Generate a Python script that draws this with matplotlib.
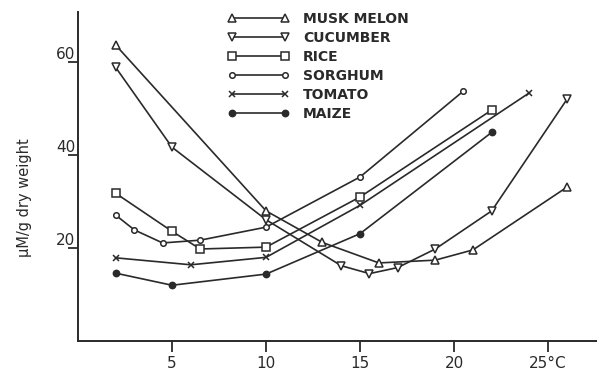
import matplotlib.pyplot as plt
from matplotlib.lines import Line2D

# temperature (deg C) and content (uM/g dry weight) for each crop
musk_x = [2, 10, 13, 16, 19, 21, 26]
musk_y = [63.7, 28.0, 21.2, 16.8, 17.4, 19.6, 33.1]

cucumber_x = [2, 5, 10, 14, 15.5, 17, 19, 22, 26]
cucumber_y = [58.9, 41.7, 26.1, 16.2, 14.5, 15.8, 19.8, 28.0, 52.0]

rice_x = [2, 5, 6.5, 10, 15, 22]
rice_y = [31.8, 23.6, 19.8, 20.2, 31.0, 49.7]

sorghum_x = [2, 3, 4.5, 6.5, 10, 15, 20.5]
sorghum_y = [27.1, 23.9, 21.1, 21.7, 24.5, 35.3, 53.8]

tomato_x = [2, 6, 10, 15, 24]
tomato_y = [17.9, 16.4, 18.0, 29.2, 53.4]

maize_x = [2, 5, 10, 15, 22]
maize_y = [14.6, 12.0, 14.4, 23.1, 44.9]

names = ['MUSK MELON', 'CUCUMBER', 'RICE', 'SORGHUM', 'TOMATO', 'MAIZE']
xticks = [5, 10, 15, 20, 25]
xtick_labels = ['5', '10', '15', '20', '25\u00b0C']
yticks = [20, 40, 60]

ink = '#2a2a2a'
styles = [
    dict(marker='^', ms=5.5, mfc='white'),
    dict(marker='v', ms=5.5, mfc='white'),
    dict(marker='s', ms=5.5, mfc='white'),
    dict(marker='o', ms=4, mfc='white'),
    dict(marker='x', ms=4.5, mfc='white'),
    dict(marker='o', ms=4.5, mfc=ink),
]
series = [(musk_x, musk_y), (cucumber_x, cucumber_y), (rice_x, rice_y),
          (sorghum_x, sorghum_y), (tomato_x, tomato_y), (maize_x, maize_y)]

fig = plt.figure(figsize=(5.97, 3.71), dpi=100)
ax = fig.add_axes([78 / 597, 30 / 371, 519 / 597, 329 / 371])

for (x, y), st in zip(series, styles):
    ax.plot(x, y, color=ink, lw=1.2, mec=ink, mew=1.1, **st)

ax.set_xlim(0, 27.6)
ax.set_ylim(0, 70.8)
for s in ['top', 'right']:
    ax.spines[s].set_visible(False)
for s in ['left', 'bottom']:
    ax.spines[s].set_color(ink)
    ax.spines[s].set_linewidth(1.4)

ax.set_xticks(xticks)
ax.set_xticklabels(xtick_labels)
ax.set_yticks(yticks)
ax.tick_params(axis='x', direction='out', length=8, width=1.3, color=ink,
               labelsize=11, pad=3, labelcolor=ink)
ax.tick_params(axis='y', direction='out', length=7, width=1.3, color=ink,
               labelsize=11, pad=-5, labelcolor=ink)
for lab in ax.get_yticklabels():
    lab.set_va('bottom')

fig.text(25 / 597, 1 - 198 / 371, '\u03bcM/g dry weight', rotation=90,
         ha='center', va='center', fontsize=10.5, color=ink)

handles = [Line2D([], [], color=ink, lw=1.2, mec=ink, mew=1.1, **st)
           for st in styles]
ax.legend(handles, names, loc='upper left', frameon=False, numpoints=2,
          bbox_to_anchor=(228 / 597, 1 - 12 / 371),
          bbox_transform=fig.transFigure, borderpad=0, borderaxespad=0,
          handlelength=4.4, handletextpad=1.0, labelspacing=0.36,
          prop={'size': 10, 'weight': 'bold'}, labelcolor=ink)

fig.savefig('out.png', dpi=100)
